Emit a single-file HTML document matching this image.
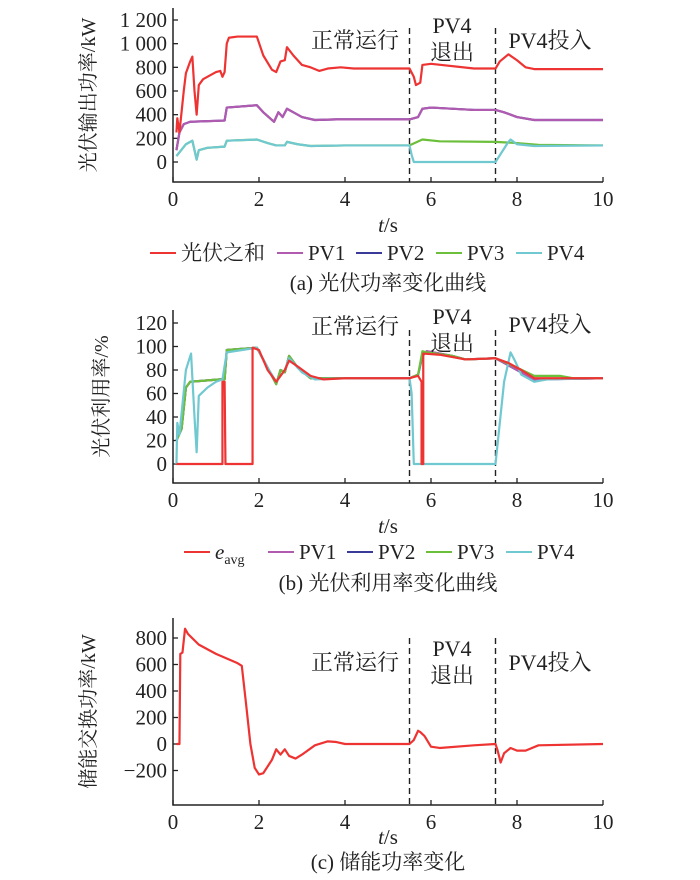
<!DOCTYPE html>
<html><head><meta charset="utf-8"><style>
body{margin:0;background:#fff;width:700px;height:880px;overflow:hidden}
svg{display:block}
text{font-family:"Liberation Serif","Noto Serif CJK SC",serif;fill:#222}
</style></head><body>
<svg id="s" width="700" height="880" viewBox="0 0 700 880"></svg>
<script>
// ---------- data ----------
const xTicks=[0,2,4,6,8,10];
const aTicks=[0,200,400,600,800,1000,1200];
const aTickLabels=["0","200","400","600","800","1 000","1 200"];
const aSumT=[0.08,0.1,0.15,0.25,0.3,0.4,0.45,0.5,0.55,0.6,0.7,0.9,1.0,1.1,1.15,1.2,1.25,1.3,1.5,1.95,2.1,2.3,2.4,2.5,2.6,2.65,2.8,3.0,3.2,3.4,3.6,3.9,4.2,5.0,5.5,5.6,5.65,5.75,5.8,6.0,7.0,7.5,7.6,7.8,8.0,8.2,8.4,10];
const aSumV=[250,370,250,600,750,850,890,600,400,650,700,740,760,770,720,760,1000,1050,1060,1060,900,780,760,850,860,970,900,820,800,770,790,800,790,790,790,720,650,670,820,830,790,790,850,910,860,800,785,785];
const aPV1T=[0.08,0.15,0.25,0.4,1.2,1.25,1.95,2.1,2.35,2.45,2.55,2.65,2.8,3.0,3.3,3.8,5.5,5.7,5.8,6.0,7.0,7.5,7.7,8.0,8.4,10];
const aPV1V=[100,250,320,340,350,460,480,420,340,420,380,450,420,380,355,360,360,380,450,460,440,440,420,380,355,355];
const aPV3T=[0.08,0.3,0.45,0.5,0.55,0.6,0.8,1.2,1.25,1.95,2.2,2.4,2.6,2.65,2.9,3.2,4,5.5,5.8,6.2,7.5,8.0,8.5,10];
const aPV3V=[50,150,180,100,20,100,120,130,180,190,160,140,140,170,150,135,140,140,190,175,170,160,145,140];
const aPV4T=[0.08,0.3,0.45,0.5,0.55,0.6,0.8,1.2,1.25,1.95,2.2,2.4,2.6,2.65,2.9,3.2,4,5.5,5.55,5.6,7.5,7.8,7.85,8.0,8.4,10];
const aPV4V=[50,150,180,100,20,100,120,130,180,190,160,140,140,170,150,135,140,140,60,0,0,170,190,150,135,140];

const bTicks=[0,20,40,60,80,100,120];
const bTickLabels=["0","20","40","60","80","100","120"];
const bAvgT=[0.08,1.15,1.15,1.2,1.22,1.85,1.85,2.0,2.2,2.4,2.5,2.6,2.7,2.9,3.2,3.5,4,5.5,5.7,5.78,5.78,5.82,5.82,6.2,6.8,7.5,7.8,8.1,8.4,10];
const bAvgV=[0,0,70,70,0,0,99,97,80,70,75,80,88,83,75,72,73,73,75,70,0,0,94,93,89,90,86,80,73,73];
const bPV1T=[0.08,0.2,0.3,0.4,1.1,1.2,1.25,1.95,2.2,2.4,2.5,2.6,2.7,2.9,3.2,4,5.5,5.7,5.8,5.9,6.5,6.8,7.5,7.7,8.0,8.4,10];
const bPV1V=[20,30,65,70,72,72,97,99,82,68,80,78,92,82,73,73,73,76,92,96,92,89,90,86,80,72,73];
const bPV3T=[0.08,0.2,0.3,0.4,1.1,1.2,1.25,1.95,2.2,2.4,2.5,2.6,2.7,2.9,3.2,4,5.5,5.7,5.8,5.9,6.5,6.8,7.5,7.7,8.0,8.4,9.0,9.3,10];
const bPV3V=[20,30,65,70,72,72,97,99,82,68,80,78,92,82,73,73,73,76,96,95,92,89,90,87,82,75,75,73,73];
const bPV4T=[0.08,0.1,0.15,0.3,0.42,0.5,0.55,0.6,0.8,1.0,1.15,1.25,1.95,2.2,2.4,2.6,2.7,3.0,3.3,4,5.5,5.55,5.6,7.5,7.7,7.85,7.95,8.1,8.4,8.7,10];
const bPV4V=[0,35,25,80,94,40,10,58,65,70,72,95,99,82,70,80,90,78,72,73,73,60,0,0,70,95,88,76,70,72,73];

const cTicks=[-200,0,200,400,600,800];
const cTickLabels=["\u2212200","0","200","400","600","800"];
const cT=[0.08,0.15,0.17,0.22,0.28,0.35,0.6,1.0,1.5,1.6,1.7,1.8,1.9,2.0,2.1,2.3,2.4,2.5,2.6,2.7,2.85,3.0,3.3,3.6,3.8,4.0,5.5,5.6,5.7,5.75,5.85,6.0,6.2,7.0,7.5,7.55,7.62,7.7,7.85,8.0,8.2,8.5,10];
const cV=[0,0,680,690,870,830,750,680,610,590,300,0,-180,-230,-220,-120,-40,-80,-40,-90,-110,-80,-10,20,15,0,0,30,100,90,60,-20,-30,-10,0,-50,-140,-70,-30,-50,-50,-10,0];

// ---------- drawing ----------
const svg=document.getElementById('s');const NS='http://www.w3.org/2000/svg';
function mk(tag,at,parent,txt){const e=document.createElementNS(NS,tag);for(const k in at)e.setAttribute(k,at[k]);if(txt!==undefined)e.textContent=txt;(parent||svg).appendChild(e);return e;}
const X0=173,X1=603;
const sx=t=>X0+(X1-X0)*t/10;
function panel(id,top,bottom,yA,vA,yB,vB,ticks,labels,ylabel,ylx,series,ann){
  const g=mk('g',{},svg);
  const sy=v=>yA+(yB-yA)*(v-vA)/(vB-vA);
  const ax=mk('path',{d:`M${X0},${top}V${bottom}H${X1}`,stroke:'#222','stroke-width':1.5,fill:'none'},g);
  
  xTicks.forEach(t=>{mk('line',{x1:sx(t),x2:sx(t),y1:bottom,y2:bottom-5,stroke:'#222','stroke-width':1.3},g);
    const l=mk('text',{x:sx(t),y:bottom+24,'font-size':21,'text-anchor':'middle'},g,String(t));
    });
  ticks.forEach((v,i)=>{mk('line',{x1:X0,x2:X0+5,y1:sy(v),y2:sy(v),stroke:'#222','stroke-width':1.3},g);
    const l=mk('text',{x:X0-6,y:sy(v)+7,'font-size':21,'text-anchor':'end'},g,labels[i]);
    });
  const yl=mk('text',{x:0,y:0,'font-size':20,'text-anchor':'middle',transform:`translate(${ylx},${(top+bottom)/2}) rotate(-90)`},g,ylabel);
  
  const xt=mk('text',{x:388,y:bottom+ann.xt,'font-size':21,'text-anchor':'middle'},g);
  mk('tspan',{'font-style':'italic'},xt,'t');mk('tspan',{},xt,'/s');
  
  [5.5,7.5].forEach(t=>{const d=mk('line',{x1:sx(t),x2:sx(t),y1:top+ann.dashTop,y2:bottom,stroke:'#222','stroke-width':1.4,'stroke-dasharray':'6,4'},g);
    });
  series.forEach(s=>{const p=mk('polyline',{points:s.t.map((t,i)=>sx(t)+','+sy(s.v[i])).join(' '),fill:'none',stroke:s.c,'stroke-width':2.2,'stroke-linejoin':'round'},g);
    });
  const a1=mk('text',{x:355,y:top+ann.y1,'font-size':22,'text-anchor':'middle'},g,'正常运行');
  
  const a2=mk('text',{x:452,y:top+ann.y2,'font-size':22,'text-anchor':'middle'},g,'PV4');
  
  const a3=mk('text',{x:452,y:top+ann.y2+27,'font-size':22,'text-anchor':'middle'},g,'退出');
  
  const a4=mk('text',{x:550,y:top+ann.y3,'font-size':22,'text-anchor':'middle'},g,'PV4投入');
  
}
const RED='#ee3333',PUR='#b05ab0',BLU='#3a3a9a',GRN='#6cbf3a',CYA='#70c8d0';
panel('chart-a',8,182,162,0,20,1200,aTicks,aTickLabels,'光伏输出功率/kW',95,
 [{n:'line-pv2',t:aPV1T,v:aPV1V,c:BLU},{n:'line-pv1',t:aPV1T,v:aPV1V,c:PUR},{n:'line-pv3',t:aPV3T,v:aPV3V,c:GRN},{n:'line-pv4',t:aPV4T,v:aPV4V,c:CYA},{n:'line-sum',t:aSumT,v:aSumV,c:RED}],
 {dashTop:20,y1:40,y2:25,y3:40,xt:50});
panel('chart-b',310,483,464,0,323,120,bTicks,bTickLabels,'光伏利用率/%',108,
 [{n:'line-pv2',t:bPV1T,v:bPV1V,c:BLU},{n:'line-pv1',t:bPV1T,v:bPV1V,c:PUR},{n:'line-pv3',t:bPV3T,v:bPV3V,c:GRN},{n:'line-pv4',t:bPV4T,v:bPV4V,c:CYA},{n:'line-eavg',t:bAvgT,v:bAvgV,c:RED}],
 {dashTop:20,y1:24,y2:14,y3:22,xt:50});
panel('chart-c',618,805,744,0,638,800,cTicks,cTickLabels,'储能交换功率/kW',95,
 [{n:'line-storage',t:cT,v:cV,c:RED}],
 {dashTop:20,y1:52,y2:38,y3:52,xt:39});
// legends
function legend(y,items,id){const g=mk('g',{},svg);
  items.forEach(it=>{const li=mk('g',{},g);
    mk('line',{x1:it.x,x2:it.x+26,y1:y-7,y2:y-7,stroke:it.c,'stroke-width':2},li);
    const t=mk('text',{x:it.x+31,y:y,'font-size':21},li);
    if(it.sub){mk('tspan',{'font-style':'italic'},t,it.l);mk('tspan',{'font-size':14,dy:5},t,it.sub);}else t.textContent=it.l;});}
legend(260,[{x:150,c:RED,l:'光伏之和'},{x:277,c:PUR,l:'PV1'},{x:356,c:BLU,l:'PV2'},{x:436,c:GRN,l:'PV3'},{x:516,c:CYA,l:'PV4'}],'legend-a');
legend(559,[{x:184,c:RED,l:'e',sub:'avg'},{x:268,c:PUR,l:'PV1'},{x:347,c:BLU,l:'PV2'},{x:426,c:GRN,l:'PV3'},{x:506,c:CYA,l:'PV4'}],'legend-b');
function cap(y,s,id){const t=mk('text',{x:388,y:y,'font-size':21,'text-anchor':'middle'},svg,s);}
cap(290,'(a)  光伏功率变化曲线','caption-a');
cap(590,'(b)  光伏利用率变化曲线','caption-b');
cap(869,'(c)  储能功率变化','caption-c');
</script>
</body></html>
